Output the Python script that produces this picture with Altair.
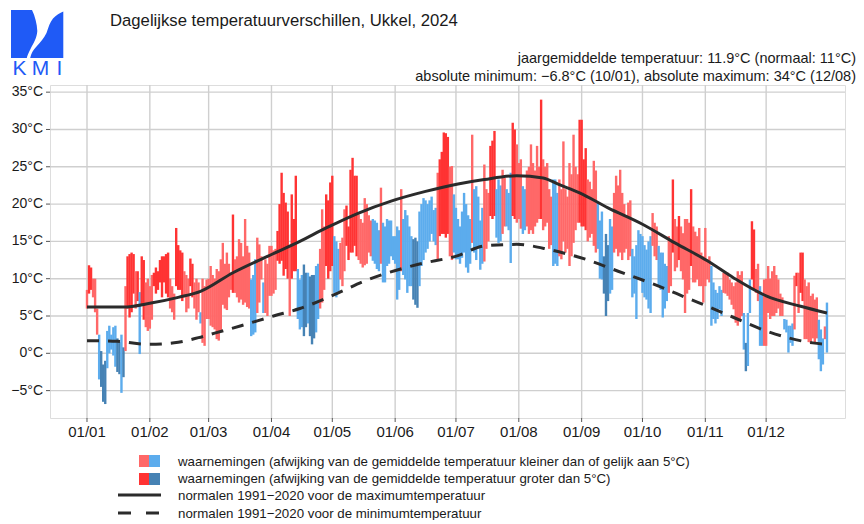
import altair as alt
import pandas as pd

FONT = "Liberation Sans, Arial, sans-serif"

month_start = [0, 31, 60, 91, 121, 152, 182, 213, 244, 274, 305, 335]
month_labels = ["01/01", "01/02", "01/03", "01/04", "01/05", "01/06",
                "01/07", "01/08", "01/09", "01/10", "01/11", "01/12"]
y_ticks = [-5, 0, 5, 10, 15, 20, 25, 30, 35]
y_labels = ["\u22125°C", "0°C", "5°C", "10°C", "15°C", "20°C", "25°C", "30°C", "35°C"]

# daily maxima / minima (°C), per month
jan_max = [8.5, 11.8, 11.5, 10.0, 10.0, 6.0, 2.5, 0.3, -1.5, -1.0, 3.0, 3.7, 2.5, 3.5, 3.7, 2.0,
           1.5, 2.5, 0.8, 9.0, 13.0, 13.3, 13.5, 13.3, 11.0, 11.0, 8.2, 13.0, 12.5, 9.5, 10.0]
jan_min = [6.0, 8.0, 8.5, 7.5, 5.5, 2.5, -3.5, -4.5, -6.5, -6.8, -2.0, 0.0, 0.5, -0.3, -1.8, -2.5,
           -2.8, -5.3, -3.2, 0.3, 6.0, 4.8, 5.5, 8.0, 6.0, 7.0, -0.1, 6.5, 4.5, 3.5, 3.0]
jan_cat = "rRRrrrbBBBbbbbbBBbBrRRRRrRbRRrr"

feb_max = [9.0, 10.5, 10.8, 11.5, 11.0, 12.5, 13.0, 13.0, 13.3, 13.5, 10.0, 9.0, 8.0, 16.8, 14.5,
           13.8, 13.5, 11.0, 10.5, 10.0, 12.7, 12.0, 9.5, 10.0, 9.5, 5.5, 10.0, 9.0, 9.9]
feb_min = [3.3, 4.5, 9.0, 8.0, 8.5, 9.5, 7.5, 9.5, 8.0, 7.5, 6.0, 5.5, 4.5, 9.0, 8.5,
           8.5, 7.0, 7.5, 5.5, 6.0, 9.0, 7.5, 6.0, 4.5, 5.5, 4.0, 1.4, 1.0, 4.6]
feb_cat = "rrRRRRRRRRrrrRRRRrrrRRrrrbrrr"

mar_max = [10.0, 11.7, 10.5, 10.0, 11.3, 11.0, 12.6, 14.8, 12.0, 13.5, 12.0, 10.8, 18.6, 12.6, 13.0,
           15.3, 14.8, 13.0, 18.0, 14.4, 13.5, 9.9, 10.5, 12.6, 15.5, 14.6, 13.0, 9.5, 12.6, 12.0, 14.4]
mar_min = [4.6, 3.7, 3.5, 3.2, 1.9, 1.7, 3.0, 6.5, 6.0, 5.8, 7.5, 8.5, 8.1, 8.1, 7.5,
           6.8, 7.2, 6.5, 6.8, 6.2, 6.0, 2.3, 2.5, 2.8, 5.4, 6.8, 9.9, 5.4, 5.4, 5.0, 7.7]
mar_cat = "rrrrrrrrrrrrRrrrrrrrrbbbrrrbrrr"

apr_max = [14.4, 13.8, 14.0, 16.4, 20.0, 24.2, 21.5, 20.2, 19.0, 14.4, 21.3, 18.0, 23.8, 11.3, 9.9,
           10.5, 11.9, 10.8, 10.8, 10.3, 10.5, 10.5, 11.7, 12.0, 14.0, 19.3, 17.0, 21.3, 20.5, 22.9]
apr_min = [7.7, 8.0, 8.5, 12.4, 12.0, 12.4, 10.4, 11.3, 10.0, 5.0, 10.0, 11.0, 11.0, 4.6, 3.2,
           3.5, 2.3, 3.5, 4.0, 2.3, 1.2, 2.0, 2.8, 4.6, 6.0, 6.8, 8.5, 11.7, 10.0, 11.0]
apr_cat = "rrrRRRRRRrRRRbbbBBbBBBbbrrrRRR"

may_max = [23.8, 15.7, 15.0, 14.0, 14.8, 15.5, 19.3, 19.8, 17.0, 24.6, 26.2, 23.8, 23.8, 18.6, 18.0,
           17.5, 20.8, 20.0, 18.5, 17.8, 18.0, 17.8, 17.5, 16.5, 22.2, 17.5, 17.0, 18.0, 17.8, 17.8, 15.7]
may_min = [11.7, 8.1, 7.5, 8.0, 9.9, 9.0, 11.0, 14.4, 12.5, 13.5, 13.5, 14.4, 13.0, 12.5, 12.0,
           11.5, 11.8, 12.0, 13.5, 13.0, 12.4, 12.0, 11.3, 11.0, 12.0, 9.5, 9.5, 11.7, 12.0, 13.0, 12.5]
may_cat = "RbbbrrrRRRRRRrrrrrrrbbbbrbbbbbb"

jun_max = [15.7, 17.0, 16.5, 22.0, 18.0, 19.2, 18.5, 17.0, 15.7, 15.3, 15.5, 15.0, 19.0, 20.0, 20.8,
           20.5, 20.0, 20.5, 21.0, 19.2, 19.5, 24.2, 26.0, 27.0, 29.6, 29.5, 29.0, 25.0, 25.1, 21.3]
jun_min = [12.0, 7.2, 8.5, 11.0, 10.5, 9.9, 8.1, 9.0, 9.0, 7.2, 6.5, 6.1, 9.0, 11.7, 12.5,
           13.5, 14.0, 15.0, 16.0, 15.0, 14.5, 12.4, 15.7, 16.0, 16.0, 15.5, 16.0, 13.0, 12.5, 13.5]
jun_cat = "bbbrbbbbbBBBbbbbbbbbbrRRRRRrrb"

jul_max = [19.5, 18.0, 17.0, 19.0, 21.5, 20.0, 18.5, 18.0, 29.3, 22.0, 22.4, 21.0, 17.8, 19.5, 25.3,
           22.0, 21.5, 27.8, 28.5, 29.8, 22.0, 23.3, 22.5, 24.6, 23.5, 22.0, 21.5, 24.2, 30.9, 30.0, 28.0]
jul_min = [12.6, 12.6, 12.0, 12.8, 13.5, 11.5, 10.8, 12.0, 14.8, 13.5, 12.5, 14.0, 11.2, 12.0, 12.3,
           14.0, 15.0, 18.4, 18.0, 18.4, 15.5, 14.8, 15.0, 16.0, 17.0, 17.0, 16.5, 12.1, 18.4, 18.0, 17.5]
jul_cat = "bbbbbbbbrbbbbbrrrRRRbbbrrbbbRRr"

aug_max = [25.5, 26.0, 22.4, 22.0, 24.5, 25.0, 28.0, 25.5, 24.5, 27.8, 25.0, 34.0, 26.0, 25.0, 25.5,
           22.0, 21.0, 23.3, 23.3, 21.5, 23.3, 22.0, 28.4, 22.0, 21.0, 25.5, 24.0, 29.3, 25.0, 24.0, 31.3]
aug_min = [18.0, 16.7, 16.0, 16.5, 17.0, 16.0, 16.5, 16.0, 17.0, 17.5, 18.0, 18.0, 16.5, 17.0, 17.5,
           14.0, 14.5, 11.7, 12.0, 11.7, 13.0, 12.6, 15.0, 13.5, 14.0, 11.7, 13.0, 14.8, 16.5, 17.5, 17.5]
aug_cat = "rrbbrrrrrrrRrrrrrbbbrrrrrrrrrrR"

sep_max = [31.3, 26.0, 27.5, 23.3, 23.0, 22.0, 25.8, 24.5, 20.2, 17.8, 19.0, 13.0, 16.0, 14.5, 18.0,
           17.0, 21.5, 23.8, 22.5, 24.6, 21.5, 20.0, 18.5, 20.2, 20.5, 14.0, 13.0, 14.5, 16.5, 16.0]
sep_min = [17.0, 17.0, 16.5, 15.0, 15.5, 16.0, 14.4, 13.5, 14.0, 10.0, 9.9, 8.0, 5.0, 7.0, 8.0,
           8.5, 13.5, 14.0, 13.0, 13.5, 12.5, 13.5, 14.0, 12.5, 13.0, 7.5, 8.0, 4.6, 9.9, 10.0]
sep_cat = "RRRrrrrrbbbBBBbbrrrrrrrrrbbbbb"

oct_max = [15.7, 14.5, 13.9, 15.0, 15.7, 18.8, 17.5, 17.0, 14.4, 13.5, 13.5, 12.0, 11.7, 15.7, 15.0,
           23.3, 18.0, 17.0, 18.4, 17.0, 16.1, 18.0, 18.0, 17.5, 22.0, 17.0, 16.3, 15.7, 16.8, 13.5, 13.0]
oct_min = [8.1, 7.5, 7.2, 6.0, 5.4, 14.4, 13.0, 12.5, 9.0, 8.5, 4.8, 6.0, 7.0, 8.1, 9.0,
           13.5, 11.0, 11.5, 12.5, 11.0, 9.9, 5.4, 8.0, 8.5, 11.7, 9.5, 9.5, 9.9, 9.0, 9.0, 6.8]
oct_cat = "bbbbbrrrbbbbbrrRrrRrrrrrRrrrrrr"

nov_max = [16.8, 12.6, 13.0, 11.7, 9.5, 8.5, 8.1, 9.0, 8.5, 10.8, 10.8, 10.8, 9.9, 9.5, 9.0,
           9.5, 11.0, 10.5, 11.0, 5.4, 1.4, 5.4, 9.9, 17.7, 16.6, 11.3, 12.0, 9.0, 8.0, 9.9]
nov_min = [9.0, 9.9, 9.5, 3.7, 4.6, 4.0, 4.6, 5.9, 5.0, 8.1, 8.0, 7.7, 7.2, 6.5, 5.9,
           4.1, 3.7, 4.5, 5.0, 0.5, -2.4, -1.7, 5.4, 9.9, 8.6, 8.1, 7.0, 1.0, 1.0, 1.0]
nov_cat = "rrrbbbbbbrrrrrrrrrrbBbbRRrrbbr"

dec_max = [10.0, 11.7, 10.0, 11.0, 11.7, 10.5, 9.9, 8.0, 7.5, 4.6, 4.5, 3.7, 3.7, 4.0, 10.4,
           10.8, 10.8, 13.5, 13.5, 9.9, 9.0, 9.5, 7.7, 8.0, 7.2, 7.5, 4.5, 3.2, 2.0, 3.6, 6.8]
dec_min = [1.0, 5.4, 4.6, 5.0, 5.0, 5.4, 6.0, 5.0, 5.0, 3.2, 2.8, 0.1, 1.4, 1.0, 3.2,
           9.0, 5.4, 8.1, 7.0, 1.9, 1.9, 1.5, 1.4, 2.0, 1.4, 2.0, -0.8, -2.4, -1.5, 1.9, 0.1]
dec_cat = "rrrrrrrrrbbbbbrRrRRrrrrrrrbbbrb"

# normals 1991-2020 (day of year, °C)
norm_max_day = [0, 18, 31, 45, 56, 72, 89, 105, 118, 134, 150, 167, 183, 196, 212, 225, 233, 243,
                257, 274, 290, 306, 319, 335, 352, 365]
norm_max_val = [6.2, 6.2, 6.7, 7.5, 8.3, 10.8, 13.0, 15.0, 16.8, 18.8, 20.4, 21.7, 22.7, 23.3, 23.8,
                23.5, 22.6, 21.5, 19.5, 17.3, 14.8, 12.4, 10.1, 7.7, 6.3, 5.4]
norm_min_day = [0, 15, 30, 43, 55, 63, 76, 92, 105, 124, 137, 163, 183, 196, 212, 228, 237, 246,
                262, 282, 297, 307, 319, 335, 358, 365]
norm_min_val = [1.7, 1.6, 1.2, 1.4, 2.1, 2.7, 3.7, 5.0, 6.0, 8.1, 9.7, 11.9, 13.1, 14.4, 14.6,
                13.9, 13.3, 12.6, 11.0, 9.0, 7.3, 6.2, 4.8, 3.0, 1.4, 1.2]

tmax = jan_max + feb_max + mar_max + apr_max + may_max + jun_max + jul_max + aug_max + sep_max + oct_max + nov_max + dec_max
tmin = jan_min + feb_min + mar_min + apr_min + may_min + jun_min + jul_min + aug_min + sep_min + oct_min + nov_min + dec_min
cats = jan_cat + feb_cat + mar_cat + apr_cat + may_cat + jun_cat + jul_cat + aug_cat + sep_cat + oct_cat + nov_cat + dec_cat

df = pd.DataFrame({"day": list(range(len(tmax))), "tmin": tmin, "tmax": tmax, "cat": list(cats)})
nmax = pd.DataFrame({"day": norm_max_day, "val": norm_max_val})
nmin = pd.DataFrame({"day": norm_min_day, "val": norm_min_val})
xt = pd.DataFrame({"day": month_start, "lab": month_labels})
yt = pd.DataFrame({"val": y_ticks, "lab": y_labels})

C_LR, C_DR, C_LB, C_DB = "#ff6868", "#ff3333", "#5caced", "#4682b4"
LINE = "#2b2b2b"
BLUE = "#1f5af6"
GRID = "#cfcfcf"
TICK = "#555555"
TXT = "#1a1a1a"

W, H = 795, 333
X0, Y0 = 50, 85  # page position of plot origin

xs = alt.Scale(domain=[-18.25, 373.9], nice=False, zero=False)
ys = alt.Scale(domain=[-8.67, 35.96], nice=False, zero=False)
X = alt.X("day:Q", scale=xs, axis=None)

ygrid = alt.Chart(yt).mark_rule(color=GRID, strokeWidth=1.4).encode(
    y=alt.Y("val:Q", scale=ys, axis=None), x=alt.value(0), x2=alt.value(W))
yticks = alt.Chart(yt).mark_rule(color=TICK, strokeWidth=1).encode(
    y=alt.Y("val:Q", scale=ys, axis=None), x=alt.value(-4), x2=alt.value(0))
ylabs = alt.Chart(yt).mark_text(align="right", baseline="middle", font=FONT, fontSize=14, color=TXT).encode(
    y=alt.Y("val:Q", scale=ys, axis=None), x=alt.value(-7), text="lab:N")
xgrid = alt.Chart(xt).mark_rule(color=GRID, strokeWidth=1.4).encode(
    x=X, y=alt.value(0), y2=alt.value(H))
xticks = alt.Chart(xt).mark_rule(color=TICK, strokeWidth=1).encode(
    x=X, y=alt.value(H), y2=alt.value(H + 4))
xlabs = alt.Chart(xt).mark_text(align="center", baseline="middle", font=FONT, fontSize=15, color=TXT).encode(
    x=X, y=alt.value(431.5 - Y0), text="lab:N")

bars = alt.Chart(df).mark_rule(strokeWidth=2.4, strokeCap="butt").encode(
    x=X,
    y=alt.Y("tmin:Q", scale=ys, axis=None),
    y2="tmax:Q",
    color=alt.Color("cat:N", scale=alt.Scale(domain=["r", "R", "b", "B"], range=[C_LR, C_DR, C_LB, C_DB]), legend=None),
)

line_max = alt.Chart(nmax).mark_line(interpolate="monotone", strokeWidth=3, color=LINE).encode(
    x=X, y=alt.Y("val:Q", scale=ys, axis=None))
line_min = alt.Chart(nmin).mark_line(interpolate="monotone", strokeWidth=3, color=LINE, strokeDash=[12, 9]).encode(
    x=X, y=alt.Y("val:Q", scale=ys, axis=None))

one = pd.DataFrame({"k": [0]})


def txt(s, px, py, size, align="left", color=TXT, font=FONT):
    return alt.Chart(one).mark_text(text=s, fontSize=size, align=align, baseline="alphabetic",
                                    color=color, font=font).encode(
        x=alt.value(px - X0), y=alt.value(py - Y0))


def rect(x1, x2, y1, y2, color):
    return alt.Chart(one).mark_rect(color=color).encode(
        x=alt.value(x1 - X0), x2=alt.value(x2 - X0), y=alt.value(y1 - Y0), y2=alt.value(y2 - Y0))


def hline(x1, x2, y, dash=None):
    kw = dict(strokeWidth=3, color=LINE)
    if dash:
        kw["strokeDash"] = dash
    return alt.Chart(one).mark_rule(**kw).encode(
        x=alt.value(x1 - X0), x2=alt.value(x2 - X0), y=alt.value(y - Y0))


logo_path = ("M11,10 L32,10 C35,16 37,24 37.3,31 C37,38 33,44 30.5,49 C28.5,53 27.2,56 26.8,58 L11,58 Z "
             "M63.3,11.5 L63.3,58 L30.2,58 C31,54 33,50 36.5,46.5 C40,42.5 44,38 46.5,33 "
             "C48.5,27 50,22 53,18.5 C56,15 60,13 63.3,11.5 Z")
logo = alt.Chart(one).mark_point(shape=logo_path, size=4, filled=True, color=BLUE, opacity=1,
                                 strokeWidth=0).encode(x=alt.value(-X0), y=alt.value(-Y0))

layers = [ygrid, xgrid, yticks, xticks, ylabs, xlabs, bars, line_max, line_min, logo,
          txt("K", 19.5, 75, 21, "center", BLUE),
          txt("M", 40.5, 75, 21, "center", BLUE),
          txt("I", 59.5, 75, 21, "center", BLUE),
          txt("Dagelijkse temperatuurverschillen, Ukkel, 2024", 110, 26, 16.7),
          txt("jaargemiddelde temperatuur: 11.9°C (normaal: 11°C)", 856, 63, 14.5, "right"),
          txt("absolute minimum: \u22126.8°C (10/01), absolute maximum: 34°C (12/08)", 856, 81, 14.5, "right"),
          rect(139, 149, 455, 467, C_LR), rect(149, 160, 455, 467, C_LB),
          rect(139, 149, 473, 485, C_DR), rect(149, 160, 473, 485, C_DB),
          hline(118, 161, 495), hline(118, 161, 513, [13, 15]),
          txt("waarnemingen (afwijking van de gemiddelde temperatuur kleiner dan of gelijk aan 5°C)", 178, 465.5, 13.3),
          txt("waarnemingen (afwijking van de gemiddelde temperatuur groter dan 5°C)", 178, 483, 13.3),
          txt("normalen 1991\u22122020 voor de maximumtemperatuur", 178, 500, 13.3),
          txt("normalen 1991\u22122020 voor de minimumtemperatuur", 178, 517.5, 13.3),
          ]

chart = alt.layer(*layers).properties(
    width=W, height=H,
    autosize=alt.AutoSizeParams(type="none"),
    padding={"left": X0 - 8, "top": Y0 - 8, "right": 848 - (X0 - 8) - W, "bottom": 512 - (Y0 - 8) - H},
).configure_view(stroke=None).configure(background="white")

chart.save("out.html", embed_options={"renderer": "svg", "actions": False})
